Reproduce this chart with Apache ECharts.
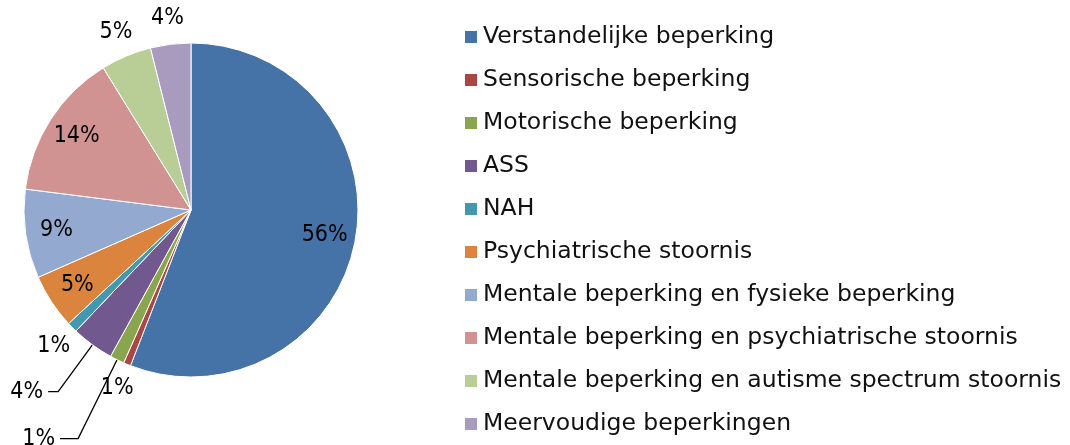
<!DOCTYPE html>
<html>
<head>
<meta charset="utf-8">
<script src="https://cdn.jsdelivr.net/npm/echarts@6/dist/echarts.min.js"></script>
<style>
  html, body { margin: 0; padding: 0; background: #fff; }
  #chart { width: 1070px; height: 445px; }
</style>
</head>
<body>
<div id="chart"></div>
<script>
var categories = [
    'Verstandelijke beperking',
    'Sensorische beperking',
    'Motorische beperking',
    'ASS',
    'NAH',
    'Psychiatrische stoornis',
    'Mentale beperking en fysieke beperking',
    'Mentale beperking en psychiatrische stoornis',
    'Mentale beperking en autisme spectrum stoornis',
    'Meervoudige beperkingen'
];
var values = [55.9, 0.7, 1.4, 4.1, 1.0, 5.3, 8.6, 14.2, 4.9, 3.9];
var colors = ['#4572A7', '#AA4643', '#89A54E', '#71588F', '#4198AF',
              '#DB843D', '#93A9CF', '#D19392', '#B9CD96', '#A99BBD'];

// welke labels waar staan
var innerLabels = [0, 5, 6, 7];
var nearLabels = [1, 4, 8, 9];
var leaderLabels = [2, 3];

var font = '"DejaVu Sans Condensed", "DejaVu Sans", sans-serif';
var pct = function (p) { return Math.round(p.value) + '%'; };

var myChart = echarts.init(document.getElementById('chart'));

function $extend(a, b) {
    for (var k in b) a[k] = b[k];
    return a;
}
function $merge(a, b) {
    return $extend($extend({}, a), b);
}
function pieData(show, extra, transparent) {
    return categories.map(function (name, i) {
        var item = {
            name: name,
            value: values[i],
            itemStyle: { color: transparent ? 'rgba(0,0,0,0)' : colors[i] },
            label: { show: show.indexOf(i) >= 0 }
        };
        if (extra && extra[i]) $extend(item, extra[i]);
        return item;
    });
}

var base = {
    type: 'pie',
    center: [191, 210],
    startAngle: 90,
    clockwise: true,
    avoidLabelOverlap: false,
    animation: false,
    emphasis: { disabled: true }
};
var labelText = { formatter: pct, fontFamily: font, fontSize: 23, color: '#000' };

var option = {
    color: colors,
    legend: {
        orient: 'vertical',
        left: 463,
        top: 25,
        padding: 0,
        itemWidth: 14,
        itemHeight: 14,
        itemGap: 19,
        icon: 'rect',
        selectedMode: false,
        textStyle: { fontFamily: '"DejaVu Sans", sans-serif', fontSize: 23.5, color: '#111' },
        data: categories
    },
    series: [
        $merge(base, {
            name: 'main',
            radius: [0, 167],
            itemStyle: { borderColor: '#fff', borderWidth: 1 },
            label: $merge(labelText, { position: 'outside' }),
            labelLine: { show: true, lineStyle: { color: '#000', width: 1.3 } },
            data: pieData(leaderLabels, {
                2: { labelLine: { length: 88, length2: 18 } },
                3: { labelLine: { length: 58, length2: 10 } }
            })
        }),
        $merge(base, {
            name: 'inner',
            radius: [0, 266],
            silent: true,
            label: $merge(labelText, { position: 'inside' }),
            labelLine: { show: false },
            data: pieData(innerLabels, null, true)
        }),
        $merge(base, {
            name: 'near',
            radius: [0, 380],
            silent: true,
            label: $merge(labelText, { position: 'inside' }),
            labelLine: { show: false },
            data: pieData(nearLabels, null, true)
        })
    ]
};

myChart.setOption(option);
</script>
</body>
</html>
